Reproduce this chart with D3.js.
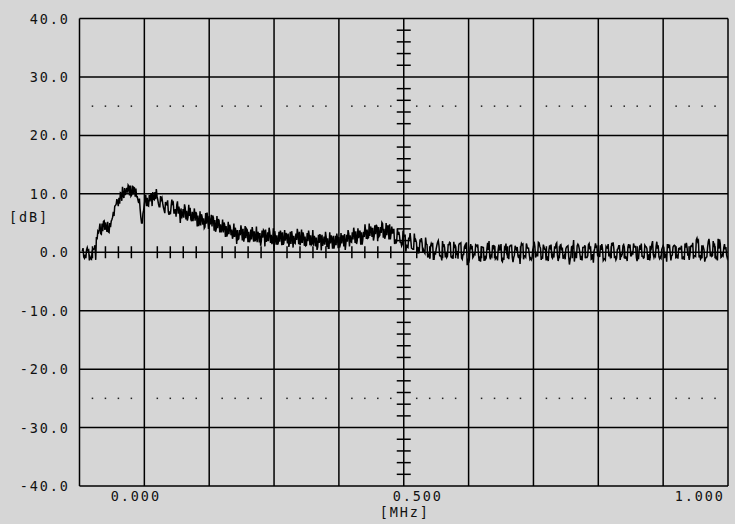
<!DOCTYPE html>
<html><head><meta charset="utf-8">
<script src="https://cdn.jsdelivr.net/npm/d3@7"></script>
<style>html,body{margin:0;padding:0;background:#d6d6d6;} svg{display:block}</style>
</head><body><svg id="c" width="735" height="524"></svg>
<script>
// ---- data ----
const yTicks = [-40, -30, -20, -10, 0, 10, 20, 30, 40];
const yTickLabels = ["-40.0", "-30.0", "-20.0", "-10.0", "0.0", "10.0", "20.0", "30.0", "40.0"];
const xLabelValues = [0, 0.5, 1.0];
const xTickLabels = ["0.000", "0.500", "1.000"];
const xUnit = "[MHz]";
const yUnit = "[dB]";
const xDomain = [-0.075, 1.075];
const yDomain = [-40, 40];
const dottedLevels = [25, -25];
// trace readings: sample k sits at freqStart + k*freqStep (+ quarter offsets below)
const freqStart = -0.07, freqStep = 0.005;
const level = [
 0.2,-0.4,0.3,-1.1,0.5,2.6,3.9,4.9,3.8,5.2,
 4.3,6.9,8.2,9.3,8.8,11.0,10.2,11.4,9.9,10.9,
 8.4,5.0,8.2,9.3,8.7,10.3,9.1,8.3,9.0,7.2,
 8.1,7.0,8.3,7.4,6.6,7.5,5.9,7.1,6.2,6.9,
 5.4,6.3,4.6,5.8,4.9,6.2,4.4,5.5,4.1,4.8,
 3.4,4.5,3.1,3.9,2.6,3.8,2.9,4.0,2.4,3.5,
 2.2,3.6,1.7,3.3,2.5,3.9,1.9,3.0,0.2,2.9,
 1.8,3.4,2.0,3.2,1.4,2.8,2.1,3.5,1.6,2.7,
 1.9,2.9,1.1,2.5,1.6,3.0,1.3,2.4,1.5,2.8,
 1.2,2.6,1.5,3.1,1.8,2.9,2.2,3.6,2.4,3.4,
 2.6,3.9,2.8,4.2,3.1,4.3,3.3,4.0,2.9,4.8,
 3.2,2.2,3.0,1.7,2.6,1.3,2.2,0.6,1.8,0.9,
 1.9,0.4,1.4,-0.3,1.2,0.1,1.7,-0.6,0.9,-0.1,
 1.3,-0.9,0.7,0.2,1.5,-0.4,0.6,-1.8,0.5,-0.3,
 1.0,-0.7,0.8,-1.2,0.4,-0.5,1.1,-0.8,0.3,-1.6,
 0.6,-0.2,1.2,-0.9,0.4,-0.4,1.3,-0.6,0.7,-1.0,
 0.9,-0.3,1.6,-0.7,0.5,-1.1,0.8,-0.2,1.4,-0.8,
 0.3,-0.5,1.0,-1.3,0.6,-0.1,1.2,-0.6,0.9,-0.9,
 0.5,-0.3,1.5,-0.7,0.4,-1.2,0.8,-0.2,1.1,-0.6,
 0.6,-0.4,1.3,-0.9,0.7,-0.1,1.0,-0.7,0.4,-1.0,
 0.9,-0.3,1.4,-0.5,0.6,-0.8,1.1,-0.2,0.7,-0.6,
 1.2,-0.4,0.5,-0.9,0.8,-0.2,1.1,-0.6,2.4,-0.5,
 0.6,-1.1,1.8,-0.3,0.9,-0.7,2.2,-0.4,0.5,-0.6
];
// readings a quarter step after each sample
const levelQ1 = [
 0.7,-1.0,0.4,-1.2,0.6,2.2,4.9,3.6,5.1,3.5,
 5.3,6.2,9.1,8.3,11.2,9.8,11.5,9.6,11.1,9.5,
 9.2,5.0,9.1,8.0,9.8,9.1,10.8,7.8,9.3,6.7,
 8.9,6.5,8.5,6.1,7.8,5.8,8.2,5.4,7.6,5.3,
 6.9,4.5,6.5,4.1,6.8,4.8,6.3,3.5,5.7,3.4,
 5.1,2.7,4.7,2.3,4.2,2.2,4.6,1.8,4.0,1.7,
 4.3,1.9,3.5,1.1,3.8,1.8,4.2,1.4,3.6,1.3,
 3.7,1.3,3.3,0.9,3.6,1.6,4.0,1.2,3.4,1.1,
 3.7,1.3,2.8,0.4,3.1,1.1,3.5,0.7,2.9,0.6,
 3.2,0.8,2.8,0.4,3.8,1.8,4.2,1.4,3.6,1.3,
 4.8,2.4,4.4,2.0,4.7,2.7,5.1,2.3,4.5,2.2,
 3.9,1.5,3.5,1.1,2.9,0.9,3.3,0.5,2.1,-0.2,
 2.4,0.0,1.3,-1.1,1.6,-0.4,2.0,-0.8,1.4,-0.9,
 1.7,-0.7,1.3,-1.1,1.6,-0.4,
 1.7,-1.3,1.1,-0.4,1.3,-1.6,0.8,-1.0,1.9,-0.7,
 1.0,-1.4,0.6,-0.9,1.5,-1.2,1.2,-0.5,0.9,-2.0,
 1.4,-0.8,0.7,-1.3,1.8,-0.6,1.0,-1.1,0.5,-1.5,
 1.3,-0.9,1.6,-0.4,0.8,-1.2,1.1,-0.7,2.1,-1.0,
 0.6,-1.4,1.2,-0.6,1.0,-1.8,0.9,-0.5,1.4,-1.1,
 0.7,-0.8,1.7,-1.3,1.1,-0.6,0.8,-1.5,1.3,-0.4,
 1.0,-1.2,1.5,-0.9,0.6,-1.4,1.9,-0.7,1.2,-1.0,
 0.8,-1.6,1.3,-0.5,1.1,-1.1,0.7,-0.8,1.6,-1.3,
 1.0,-0.6,1.8,-1.2,0.9,-0.9,2.3,-0.7,1.2,-1.4,
 1.5,-0.6,0.9
];
// readings half a step after each sample
const levelMid = [
 -0.8,0.4,-1.4,0.2,1.2,3.6,3.2,5.3,4.2,3.4,
 5.6,7.9,8.6,10.2,9.6,10.4,11.3,9.8,11.0,9.5,
 7.4,6.6,9.8,7.9,9.9,9.0,9.6,7.8,8.4,8.6,
 6.9,7.9,6.7,8.1,7.0,6.4,7.6,6.0,5.6,6.4,
 6.6,4.9,6.0,4.3,5.6,5.0,5.9,4.0,5.4,3.9,
 4.7,3.2,4.3,2.8,3.5,2.3,3.7,2.6,3.8,2.1,
 3.4,2.2,3.2,2.0,3.6,2.1,3.4,1.9,2.6,1.6,
 3.1,1.6,2.9,1.7,2.6,1.5,3.0,1.9,2.9,1.2,
 2.8,1.5,2.4,0.9,2.6,1.7,2.5,0.7,2.3,1.4,
 2.4,1.3,2.8,1.6,3.2,1.7,3.3,2.0,3.6,2.3,
 3.5,2.5,4.0,2.7,4.4,2.9,4.9,2.8,4.5,3.2,
 3.9,1.9,2.8,1.4,2.9,0.8,2.1,0.5,1.7,0.2,
 1.6,-0.2,
 -0.9,1.0,-1.2,0.6,1.1,-1.4,0.8,-0.7,1.6,-1.1,
 0.3,1.2,-1.0,0.9,-2.2,0.7,-0.9,1.3,-0.4,0.9,
 -1.5,0.6,-0.8,1.2,-1.1,0.5,1.4,-1.3,-0.2,0.9,
 -0.9,1.1,-0.6,0.8,-1.2,1.5,-0.3,-1.0,1.0,-0.6,
 0.7,1.3,-1.4,0.4,-0.8,1.0,-0.5,1.2,-1.1,0.6,
 -0.7,0.9,-1.6,1.1,-0.4,0.8,-0.9,1.3,-1.2,0.2,
 1.0,-0.8,0.6,-1.3,1.4,-0.5,0.7,-1.0,1.1,-0.3,
 -1.1,0.9,-0.6,1.5,-0.9,0.4,-0.7,1.2,-1.2,0.8,
 -0.4,1.0,-0.8,0.5,-1.0,1.3,-0.2,0.9,-0.9,0.6,
 1.1,-1.3,0.7,-0.5,1.6,-0.7,2.0,-1.0,0.4,-0.8,
 1.2,-0.6,0.3,2.3,-0.9,0.8,-0.5
];
// readings three quarters of a step after each sample
const levelQ3 = [
 -1.0,0.8,-0.8,0.6,-1.3,3.4,3.1,5.4,3.5,5.0,
 6.0,8.0,7.9,10.1,9.3,11.0,9.7,11.4,9.5,8.9,
 6.0,7.2,7.9,9.8,7.9,10.3,9.0,9.6,7.7,8.2,
 6.4,9.0,6.7,8.7,5.0,7.4,5.6,8.1,5.3,7.5,
 4.4,7.0,4.7,6.7,4.0,6.4,3.7,6.2,3.4,5.6,
 2.6,5.2,2.9,4.9,1.4,3.8,2.0,4.5,1.7,3.9,
 1.8,4.4,1.7,3.7,1.0,3.4,1.6,4.1,1.3,3.5,
 1.2,3.8,1.5,3.5,0.8,3.2,1.4,3.9,1.1,3.3,
 1.2,3.8,1.0,3.0,0.3,2.7,0.9,3.4,0.6,2.8,
 0.7,3.3,1.0,3.0,1.0,3.4,1.6,4.1,1.3,3.5,
 2.3,4.9,2.6,4.6,1.9,4.3,2.5,5.0,2.2,4.4,
 1.4,4.0,1.7,3.7,0.1,2.5,0.7,3.2,-0.2,2.0,
 -0.1,2.5,-0.5,1.5,-1.2,1.2,-0.6,1.9,-0.9,1.3,
 -0.8,1.8,-0.5,1.5,-1.2,1.2,
 -1.1,1.4,-0.7,1.2,-1.5,0.9,-0.6,1.6,-1.2,0.5,
 -0.9,1.3,-1.4,0.8,-0.5,1.1,-1.7,0.7,-1.0,1.5,
 -0.6,1.0,-1.2,0.4,-0.9,1.7,-1.3,0.9,-0.7,1.2,
 -1.0,0.6,-1.5,1.3,-0.8,0.9,-2.1,1.0,-0.6,1.4,
 -1.3,0.8,-0.9,1.5,-1.1,0.7,-0.5,1.2,-1.4,1.0,
 -0.7,1.6,-1.0,0.5,-1.3,1.1,-0.8,1.4,-0.6,0.9,
 -1.5,1.2,-0.7,1.0,-1.2,0.6,-0.9,1.8,-1.1,0.8,
 -0.5,1.3,-1.4,1.1,-0.8,0.7,-1.2,1.5,-0.6,1.0,
 -1.1,2.1,-0.9,1.2,-1.6,0.8,-0.7,1.9,-1.2,0.6,
 -0.8,1.4,-1.0
];

// ---- drawing ----
const svg = d3.select("#c");
const L = 79.5, R = 728, T = 18.5, B = 486;
const x = d3.scaleLinear().domain(xDomain).range([L, R]);
const y = d3.scaleLinear().domain(yDomain).range([B, T]);
const font = "'DejaVu Sans Mono', monospace";
const fs = 13.5, ls = 1.9;
const span = xDomain[1] - xDomain[0];

svg.append("rect").attr("width", 735).attr("height", 524).attr("fill", "#d6d6d6");

// grid
const xGrid = d3.range(11).map(k => xDomain[0] + k * span / 10);
const g = svg.append("g").attr("stroke", "#000").attr("stroke-width", 1.5);
g.selectAll("line.v").data(xGrid).join("line")
  .attr("x1", d => x(d)).attr("x2", d => x(d)).attr("y1", T).attr("y2", B);
g.selectAll("line.h").data(yTicks).join("line")
  .attr("x1", L).attr("x2", R).attr("y1", d => y(d)).attr("y2", d => y(d));

// minor ticks on the 0 dB line
const minorX = d3.range(51).filter(k => k % 5 !== 0).map(k => xDomain[0] + k * span / 50);
g.selectAll("line.mx").data(minorX).join("line")
  .attr("x1", d => x(d)).attr("x2", d => x(d)).attr("y1", y(0) - 6).attr("y2", y(0) + 6);
// minor ticks on the centre frequency line
const minorY = d3.range(41).filter(k => k % 5 !== 0).map(k => yDomain[0] + k * 2);
const xc = x(0.5);
g.selectAll("line.my").data(minorY).join("line")
  .attr("x1", xc - 7).attr("x2", xc + 7).attr("y1", d => y(d)).attr("y2", d => y(d));

// dotted levels
dottedLevels.forEach(lv => {
  svg.append("g").selectAll("rect").data(minorX).join("rect")
    .attr("x", d => x(d) - 0.75).attr("y", y(lv) - 0.75)
    .attr("width", 1.5).attr("height", 1.5).attr("fill", "#222");
});

// trace: interleave the four sets of readings
const pts = [];
level.forEach((v, i) => {
  pts.push([freqStart + i * freqStep, v]);
  if (i < levelMid.length) {
    pts.push([freqStart + (i + 0.25) * freqStep, levelQ1[i]]);
    pts.push([freqStart + (i + 0.5) * freqStep, levelMid[i]]);
    pts.push([freqStart + (i + 0.75) * freqStep, levelQ3[i]]);
  }
});
svg.append("clipPath").attr("id", "clip").append("rect")
  .attr("x", L).attr("y", T).attr("width", R - L).attr("height", B - T);
const line = d3.line().x(d => x(d[0])).y(d => y(d[1]));
svg.append("path").datum(pts).attr("d", line).attr("clip-path", "url(#clip)")
  .attr("fill", "none").attr("stroke", "#000").attr("stroke-width", 1.5);

// labels
const txt = svg.append("g").attr("font-family", font).attr("font-size", fs)
  .attr("letter-spacing", ls).attr("fill", "#111");
txt.selectAll("text.y").data(yTicks).join("text")
  .attr("x", 68 + ls).attr("y", d => y(d) + 5).attr("text-anchor", "end")
  .text((d, i) => yTickLabels[i]);
txt.selectAll("text.x").data(xLabelValues).join("text")
  .attr("x", d => x(d) - 11).attr("y", 501).attr("text-anchor", "start")
  .text((d, i) => xTickLabels[i]);
txt.append("text").attr("x", x(0.5) + ls / 2).attr("y", 517).attr("text-anchor", "middle").text(xUnit);
txt.append("text").attr("x", 9).attr("y", 222).attr("text-anchor", "start").text(yUnit);
</script></body></html>
